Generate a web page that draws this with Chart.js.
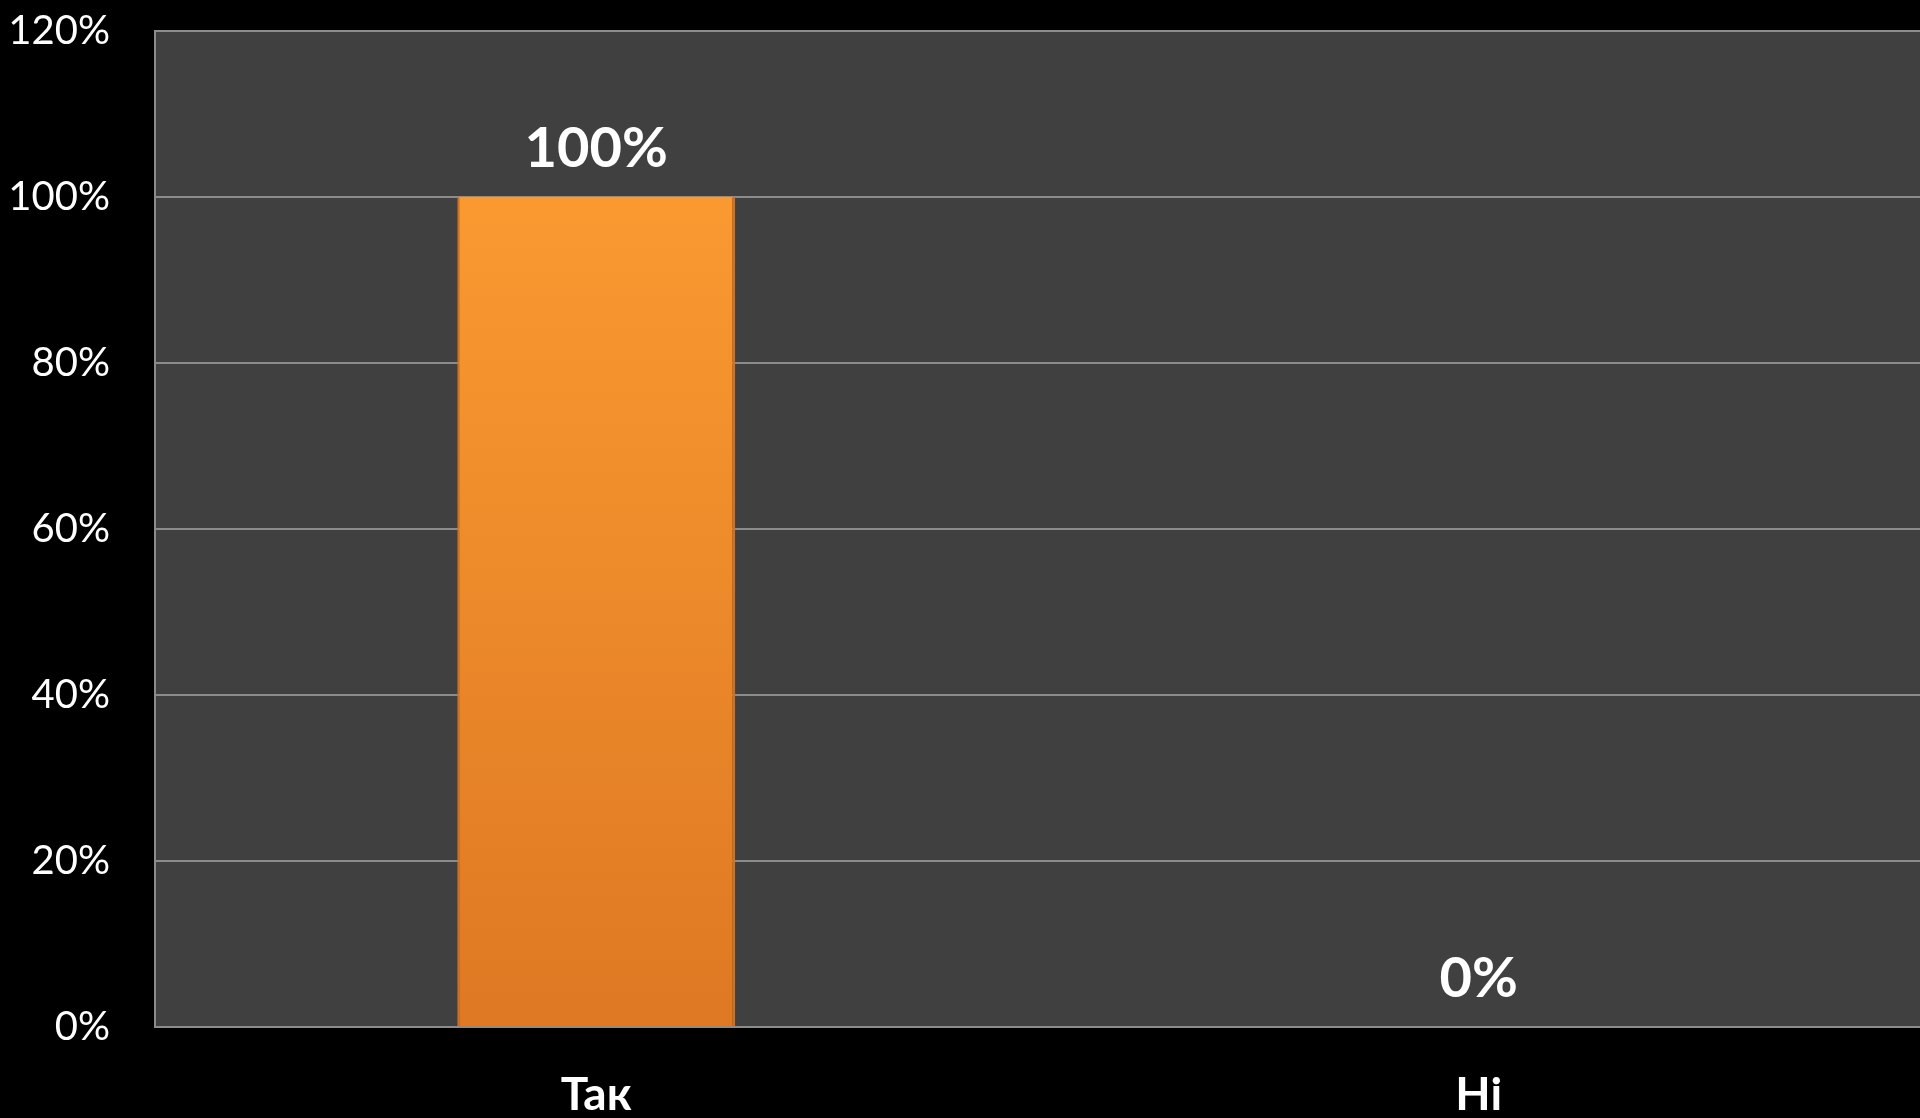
<!DOCTYPE html>
<html>
<head>
<meta charset="utf-8">
<script src="https://cdn.jsdelivr.net/npm/chart.js@4"></script>
<style>
    html, body { margin: 0; padding: 0; background: #000; }
    #wrap { width: 1920px; height: 1118px; }
</style>
</head>
<body>
<div id="wrap"><canvas id="answersChart"></canvas></div>
<script>
const categories = ['Так', 'Ні'];
const shares = [1.0, 0.0];
const yTicks = [0, 0.2, 0.4, 0.6, 0.8, 1.0, 1.2];

const pct = v => Math.round(v * 100) + '%';

// dark plot area behind the grid
const plotBg = {
    id: 'plotBg',
    beforeDraw(chart) {
        const { ctx, chartArea: a } = chart;
        ctx.save();
        ctx.fillStyle = '#404040';
        ctx.fillRect(a.left, a.top, a.right - a.left, a.bottom - a.top);
        ctx.restore();
    }
};

// value labels above the bars
const valueLabels = {
    id: 'valueLabels',
    afterDatasetsDraw(chart) {
        const ctx = chart.ctx;
        const meta = chart.getDatasetMeta(0);
        ctx.save();
        ctx.fillStyle = '#ffffff';
        ctx.font = 'bold 56px Lato';
        ctx.textAlign = 'center';
        ctx.textBaseline = 'middle';
        meta.data.forEach((bar, i) => {
            ctx.fillText(pct(shares[i]), bar.x, bar.y - 48);
        });
        ctx.restore();
    }
};

const ctx = document.getElementById('answersChart').getContext('2d');
new Chart(ctx, {
    type: 'bar',
    data: {
        labels: categories,
        datasets: [{
            data: shares,
            backgroundColor: context => {
                const a = context.chart.chartArea;
                if (!a) return '#f28c28';
                const g = context.chart.ctx.createLinearGradient(0, a.top, 0, a.bottom);
                g.addColorStop(0, '#ffa033');
                g.addColorStop(1, '#de7823');
                return g;
            },
            borderColor: '#d07020',
            borderWidth: { left: 2, right: 3, top: 0, bottom: 0 },
            borderSkipped: false,
            barPercentage: 0.315,
            categoryPercentage: 1
        }]
    },
    options: {
        responsive: true,
        maintainAspectRatio: false,
        animation: false,
        layout: { padding: { top: 31, right: 0, left: 0, bottom: 0 } },
        plugins: {
            legend: { display: false },
            tooltip: { enabled: false }
        },
        scales: {
            y: {
                min: 0,
                max: 1.2,
                afterFit: scale => {
                    scale.width = 155;
                    scale.paddingTop = 0;
                    scale.paddingBottom = 0;
                },
                afterBuildTicks: scale => { scale.ticks = yTicks.map(v => ({ value: v })); },
                grid: { color: '#8c8c8c', lineWidth: 2, drawTicks: false },
                border: { color: '#8c8c8c', width: 2 },
                ticks: {
                    color: '#ffffff',
                    padding: 45,
                    font: { family: 'Lato', size: 40 },
                    callback: value => pct(value)
                }
            },
            x: {
                afterFit: scale => {
                    scale.height = 91;
                    scale.paddingLeft = 0;
                    scale.paddingRight = 0;
                },
                grid: { display: false, drawTicks: false },
                border: { color: '#8c8c8c', width: 2 },
                ticks: {
                    color: '#ffffff',
                    padding: 41,
                    font: { family: 'Lato', size: 46, weight: 'bold' }
                }
            }
        }
    },
    plugins: [plotBg, valueLabels]
});
</script>
</body>
</html>
